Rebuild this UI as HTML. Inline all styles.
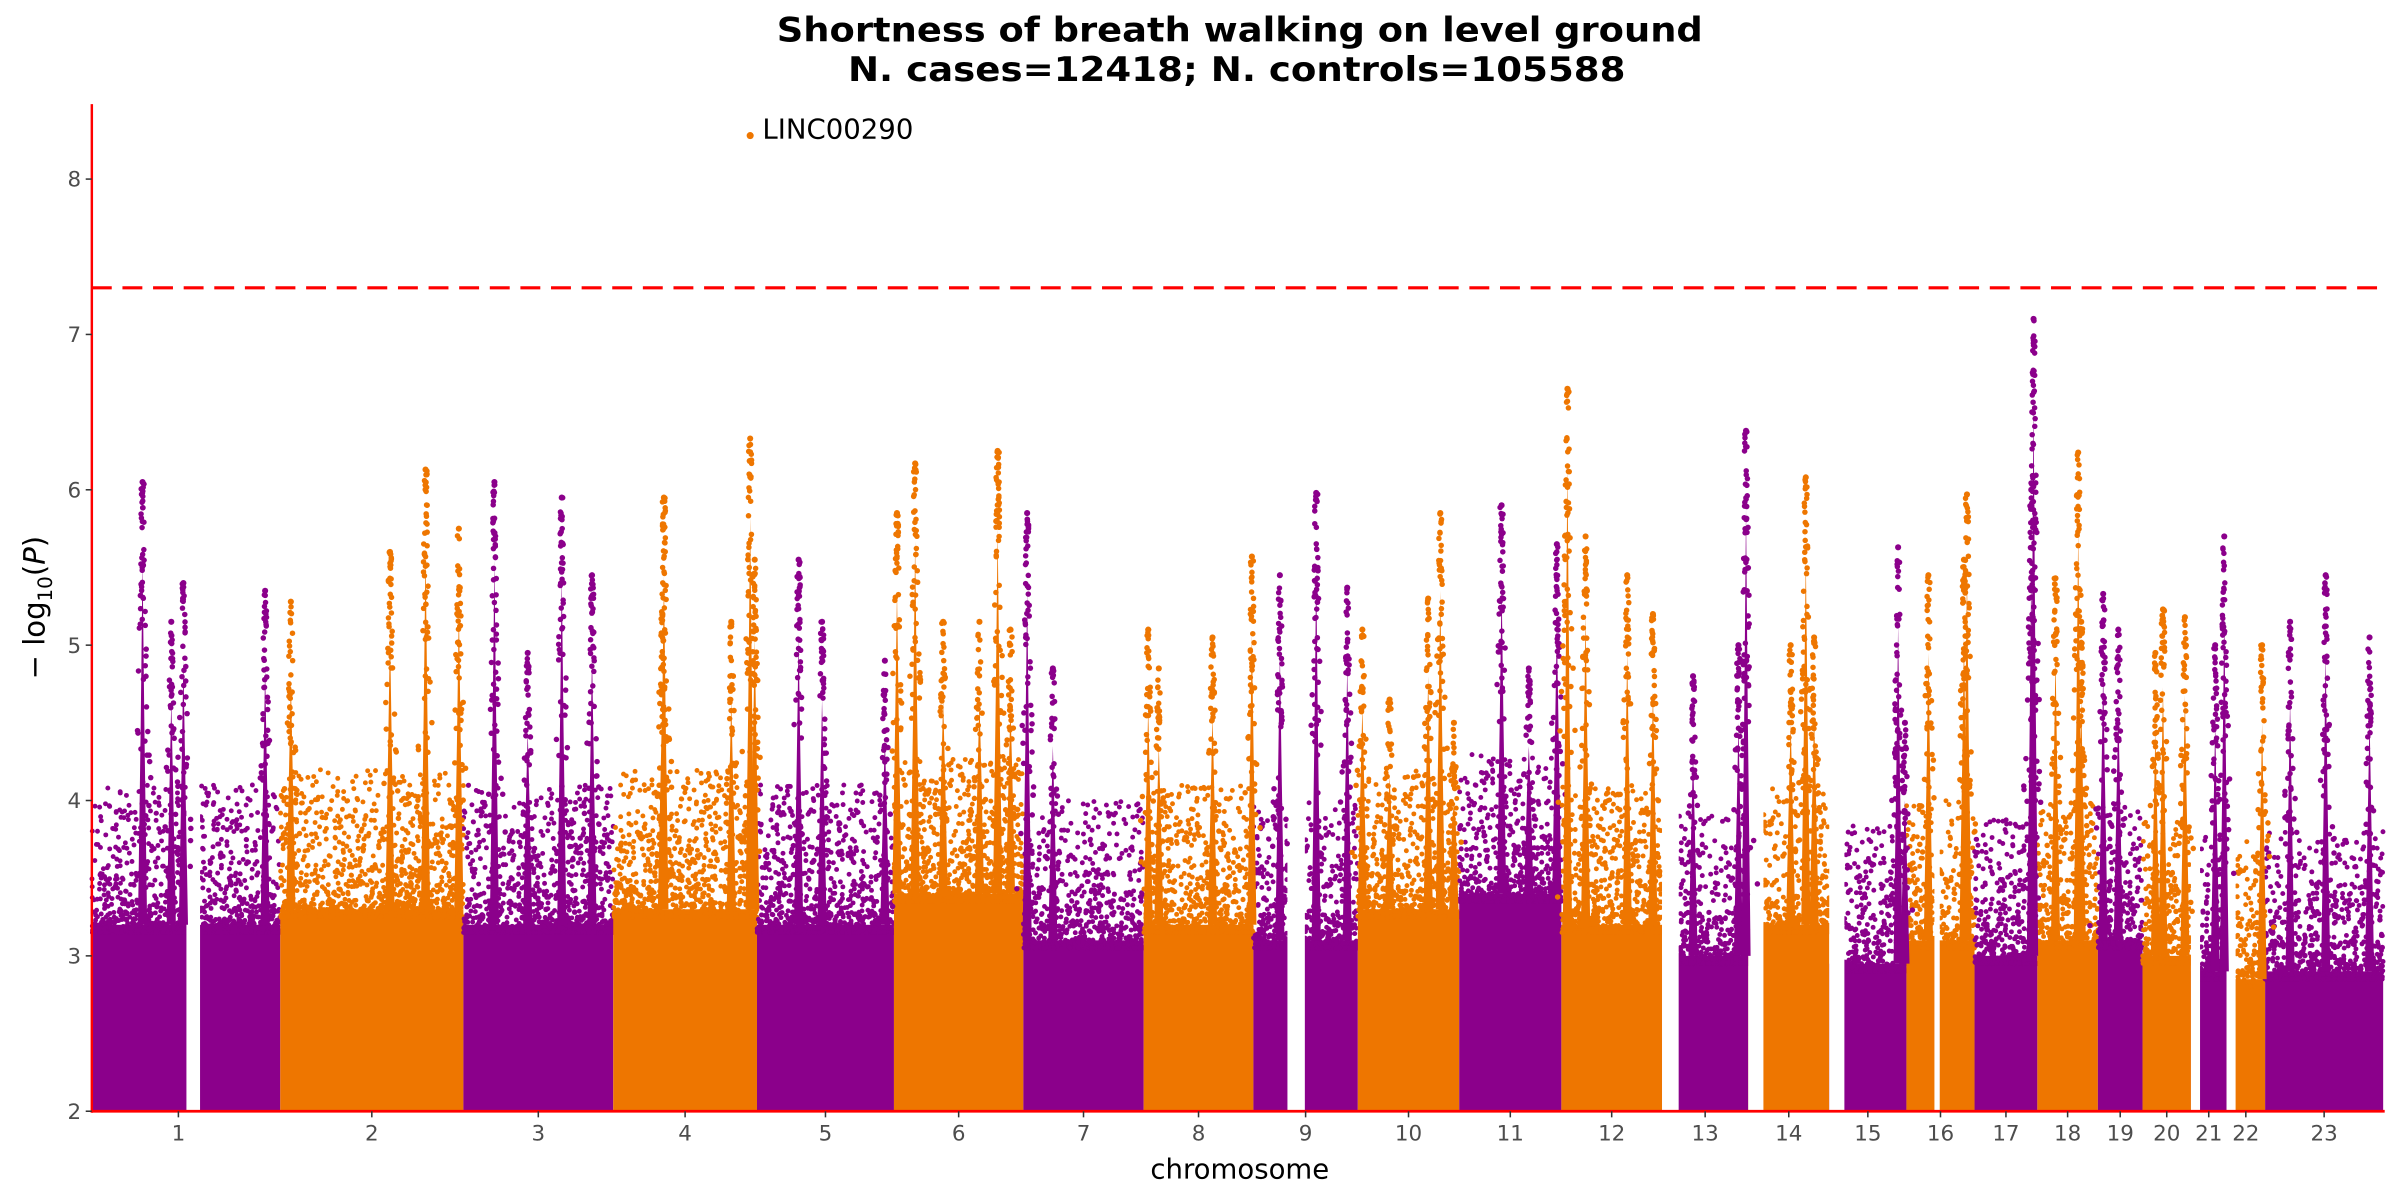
<!DOCTYPE html>
<html><head><meta charset="utf-8"><style>
html,body{margin:0;padding:0;background:#fff;}
svg{display:block;}
text{font-family:"DejaVu Sans","Liberation Sans",sans-serif;}
</style></head><body>
<svg id="chart" width="2400" height="1200" viewBox="0 0 1568 784" preserveAspectRatio="none" xmlns="http://www.w3.org/2000/svg">
<text x="810" y="27" text-anchor="middle" font-weight="bold" font-size="22" textLength="605" lengthAdjust="spacingAndGlyphs">Shortness of breath walking on level ground</text>
<text x="808" y="53" text-anchor="middle" font-weight="bold" font-size="22" textLength="508" lengthAdjust="spacingAndGlyphs">N. cases=12418; N. controls=105588</text>
<g id="marks"></g>
<text x="810" y="770" text-anchor="middle" font-size="18" fill="#000">chromosome</text>
<text transform="translate(29,397) rotate(-90)" text-anchor="middle" font-size="19" fill="#000">− log<tspan font-size="13" dy="5">10</tspan><tspan dy="-5">(</tspan><tspan font-style="italic">P</tspan>)</text>
</svg>
<script>
const chromosomes=["1","2","3","4","5","6","7","8","9","10","11","12","13","14","15","16","17","18","19","20","21","22","23"];
const chromLengthsMb=[249,242,198,190,181,171,159,145,138,134,135,133,114,107,102,90,83,80,59,64,47,51,156];
const bandTops=[3.2,3.3,3.2,3.3,3.2,3.4,3.1,3.2,3.1,3.3,3.4,3.2,3.0,3.2,2.95,3.1,3.0,3.1,3.1,3.0,2.9,2.85,2.9];
const gapChrom=[1,9,13,14,15,16,21,22];
const gapStartMb=[125,45,0,0,0,37,0,0];
const gapEndMb=[143,68,22,20,20,44,12,12];
const peakChrom=[1,1,1,1,2,2,2,2,3,3,3,3,4,4,4,4,4,5,5,5,6,6,6,6,6,6,7,7,8,8,8,8,9,9,9,10,10,10,10,10,11,11,11,12,12,12,12,13,13,13,14,14,14,15,15,16,16,16,17,17,18,18,18,19,19,20,20,20,21,21,22,23,23,23];
const peakPosMb=[67,105,121,229,14,145,192,236,41,85,130,170,65,67,156,181,187,55,86,169,4,28,65,113,137,154,5,39,6,20,91,143,35,83,124,6,42,93,109,127,56,92,129,8,32,87,121,41,101,111,56,76,87,91,100,29,76,80,75,78,24,54,58,7,27,17,27,56,32,44,47,33,80,138];
const peakLogP=[6.05,5.15,5.4,5.35,5.28,5.6,6.13,5.75,6.05,4.95,5.95,5.45,5.2,5.95,5.15,6.33,5.55,5.55,5.15,4.9,5.85,6.17,5.15,5.15,6.25,5.1,5.85,4.85,5.1,4.85,5.05,5.57,5.45,5.98,5.37,5.1,4.65,5.3,5.85,4.5,5.9,4.85,5.65,6.65,5.7,5.45,5.2,4.8,5.0,6.38,5.0,6.08,5.05,5.63,4.5,5.45,5.55,5.97,6.0,7.1,5.43,6.24,5.15,5.33,5.1,4.95,5.23,5.18,5.0,5.7,5.0,5.15,5.45,5.05];
const topHitChrom=4, topHitPosMb=181, topHitLogP=8.28, topHitLabel="LINC00290";
const yTicks=[2,3,4,5,6,7,8];
const threshold=7.3;

const NS="http://www.w3.org/2000/svg";
const colors=["#8B008B","#EE7600"];
const starts=[];let acc=0;for(const L of chromLengthsMb){starts.push(acc);acc+=L;}
const total=acc;
const X0=60,X1=1557,Y0=726,PX=101.5;
const xs=mb=>X0+mb/total*(X1-X0);
const ys=v=>Y0-(v-2)*PX;
const g=document.getElementById('marks');
function mk(tag,attrs){const e=document.createElementNS(NS,tag);for(const k in attrs)e.setAttribute(k,attrs[k]);return e;}
function inGap(i,mb){for(let j=0;j<gapChrom.length;j++){if(gapChrom[j]-1===i&&mb>=gapStartMb[j]&&mb<=gapEndMb[j])return true;}return false;}
// texture jitter only (hash), not data
const jit=k=>{const s=Math.sin(k*12.9898+78.233)*43758.5453;return s-Math.floor(s);};

chromosomes.forEach((c,i)=>{
  const col=colors[i%2];
  const r=mk('rect',{x:xs(starts[i]),y:ys(bandTops[i]),width:xs(starts[i]+chromLengthsMb[i])-xs(starts[i]),height:ys(2)-ys(bandTops[i]),fill:col});
  
  
  g.appendChild(r);
  const fr=mk('g',{fill:col});
  
  
  const n=Math.round(chromLengthsMb[i]*5);
  let k=i*1009;
  for(let q=0;q<n;q++){
    k+=1;
    const mb=jit(k)*chromLengthsMb[i];
    if(inGap(i,mb))continue;
    const u=jit(k+50000);
    const h=bandTops[i]-0.05+0.95*Math.pow(u,3);
    fr.appendChild(mk('circle',{cx:xs(starts[i]+mb),cy:ys(h),r:1.6}));
  }
  g.appendChild(fr);
});
gapChrom.forEach((c,j)=>{
  const i=c-1;
  const r=mk('rect',{x:xs(starts[i]+gapStartMb[j]),y:ys(4.0),width:xs(starts[i]+gapEndMb[j])-xs(starts[i]+gapStartMb[j]),height:ys(2)-ys(4.0)+0.5,fill:'#fff'});
  
  
  g.appendChild(r);
});
peakChrom.forEach((c,j)=>{
  const i=c-1,col=colors[i%2];
  const px=xs(starts[i]+peakPosMb[j]),top=peakLogP[j],base=bandTops[i];
  const grp=mk('g',{fill:col});
  
  
  grp.appendChild(mk('polygon',{points:`${px-3},${ys(base)} ${px+3},${ys(base)} ${px+1.2},${ys(base+(top-base)*0.45)} ${px},${ys(top-0.5)} ${px-1.2},${ys(base+(top-base)*0.45)}`}));
  let k=j*977+300000;
  const n=Math.round((top-base)*22);
  for(let q=0;q<n;q++){
    k++;
    const v=base+(top-base)*Math.sqrt(jit(k));
    const f=(top-v)/(top-base);
    const spread=10*f*f+1;
    grp.appendChild(mk('circle',{cx:px+(jit(k+7)-0.5)*2*spread,cy:ys(v),r:1.8}));
  }
  grp.appendChild(mk('circle',{cx:px,cy:ys(top),r:2}));
  g.appendChild(grp);
});
{
  const i=topHitChrom-1;
  const px=xs(starts[i]+topHitPosMb);
  const d=mk('circle',{cx:px,cy:ys(topHitLogP),r:2.3,fill:colors[i%2]});
  
  
  g.appendChild(d);
  const t=mk('text',{x:px+8,y:ys(topHitLogP)+2,'font-size':18,fill:'#000'});
  t.textContent=topHitLabel;
  
  
  g.appendChild(t);
}
{
  const l=mk('line',{x1:X0,x2:X1+1,y1:ys(threshold),y2:ys(threshold),stroke:'#FF0000','stroke-width':2,'stroke-dasharray':'13 7'});
  
  
  g.appendChild(l);
  const ya=mk('line',{x1:X0,x2:X0,y1:68,y2:Y0+1,stroke:'#FF0000','stroke-width':1.6});
  
  
  g.appendChild(ya);
  const xa=mk('line',{x1:X0,x2:X1+1,y1:Y0,y2:Y0,stroke:'#FF0000','stroke-width':1.8});
  
  
  g.appendChild(xa);
}
yTicks.forEach(v=>{
  const tk=mk('line',{x1:X0-4,x2:X0,y1:ys(v),y2:ys(v),stroke:'#333','stroke-width':1});
  
  
  g.appendChild(tk);
  const t=mk('text',{x:X0-7,y:ys(v)+5,'text-anchor':'end','font-size':14,fill:'#4d4d4d'});
  t.textContent=v;
  
  
  g.appendChild(t);
});
chromosomes.forEach((c,i)=>{
  const cx=xs(starts[i]+chromLengthsMb[i]/2)-(i===0?5:0);
  const tk=mk('line',{x1:cx,x2:cx,y1:Y0,y2:Y0+4,stroke:'#333','stroke-width':1});
  
  
  g.appendChild(tk);
  const t=mk('text',{x:cx,y:Y0+19,'text-anchor':'middle','font-size':14,fill:'#4d4d4d'});
  t.textContent=c;
  
  
  g.appendChild(t);
});
</script>
</body></html>
